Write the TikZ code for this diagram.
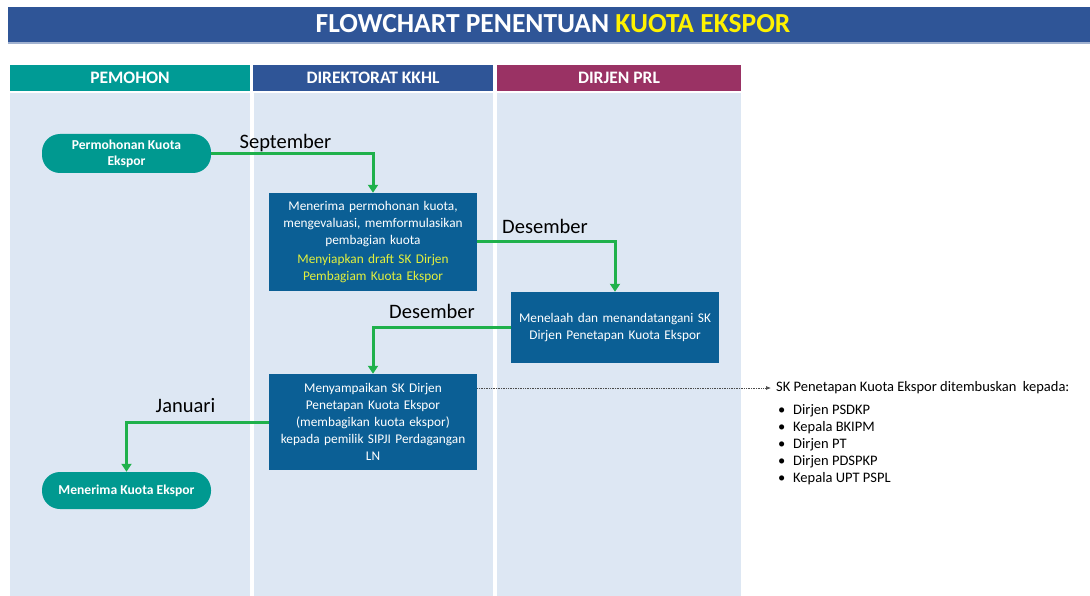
\documentclass[tikz,border=0pt]{standalone}
\usepackage{fontspec}
\setmainfont{Carlito}
\usetikzlibrary{arrows.meta}
\definecolor{barblue}{HTML}{2F5597}
\definecolor{laneteal}{HTML}{009B95}
\definecolor{lanemaroon}{HTML}{9A3264}
\definecolor{lanebody}{HTML}{DDE7F3}
\definecolor{boxblue}{HTML}{0B5F95}
\definecolor{termteal}{HTML}{009990}
\definecolor{flowgreen}{HTML}{1FB14B}
\definecolor{noteyellow}{HTML}{E4F03C}
\begin{document}
\begin{tikzpicture}[x=1pt,y=-1pt,
  lanehead/.style={text=white,font=\bfseries\fontsize{17.5}{19}\selectfont,inner sep=0pt},
  procbox/.style={fill=boxblue,text=white,align=center,inner sep=2pt,
    text width=204pt,font=\fontsize{13.3}{17}\selectfont},
  terminal/.style={fill=termteal,text=white,rounded corners=18pt,align=center,
    minimum width=169pt,inner sep=0pt,font=\bfseries\fontsize{13.6}{16}\selectfont},
  flow/.style={draw=flowgreen,line width=3pt,-{Triangle[length=8pt,width=10pt]}},
  month/.style={font=\fontsize{20.5}{22}\selectfont,text=black},
  listitem/.style={anchor=west,font=\fontsize{14.5}{16}\selectfont,inner sep=0pt}
]
\useasboundingbox (0,0) rectangle (1090,596);
\fill[white] (0,0) rectangle (1090,596);

% title bar
\fill[barblue] (8,7) rectangle (1090,42);
\fill[barblue!45] (8,42) rectangle (1090,44);
\node[text=white,font=\bfseries\fontsize{27.5}{29}\selectfont] (title) at (553,24)
  {FLOWCHART PENENTUAN \textcolor{yellow}{KUOTA EKSPOR}};

% swimlanes
\fill[laneteal] (10,65) rectangle (250,91);
\fill[barblue] (253,65) rectangle (493,91);
\fill[lanemaroon] (497,65) rectangle (741,91);
\fill[lanebody] (10,93) rectangle (250,596);
\fill[lanebody] (254,93) rectangle (493,596);
\fill[lanebody] (497,93) rectangle (741,596);
\node[lanehead] (h1) at (130,78) {PEMOHON};
\node[lanehead] (h2) at (373,78) {DIREKTORAT KKHL};
\node[lanehead] (h3) at (619,78) {DIRJEN PRL};

% steps
\node[terminal,minimum height=39pt] (start) at (126.5,153.5) {Permohonan Kuota\\Ekspor};
\node[procbox,minimum height=98pt] (box1) at (373,242)
  {Menerima permohonan kuota,\\mengevaluasi, memformulasikan\\pembagian kuota\\[2.5pt]
   \textcolor{noteyellow}{Menyiapkan draft SK Dirjen}\\\textcolor{noteyellow}{Pembagiam Kuota Ekspor}};
\node[procbox,minimum height=71pt] (box2) at (615,327.5)
  {Menelaah dan menandatangani SK\\Dirjen Penetapan Kuota Ekspor};
\node[procbox,minimum height=96pt] (box3) at (373,422)
  {Menyampaikan SK Dirjen\\Penetapan Kuota Ekspor\\(membagikan kuota ekspor)\\kepada pemilik SIPJI Perdagangan\\LN};
\node[terminal,minimum height=37pt] (finish) at (126.5,490.5) {Menerima Kuota Ekspor};

% flow arrows
\draw[flow] (start.east) -| (box1.north);
\draw[flow] (box1.east) -| (box2.north);
\draw[flow] (box2.west) -| (box3.north);
\draw[flow] (box3.west) -| (finish.north);

% month labels
\node[month] (m1) at (285.5,143) {September};
\node[month] (m2) at (545,226) {Desember};
\node[month] (m3) at (432,311) {Desember};
\node[month] (m4) at (185.5,406) {Januari};

% distribution note
\node[listitem] (note) at (776,388) {SK Penetapan Kuota Ekspor ditembuskan\ \ kepada:};
\draw[densely dotted,draw=black!70,line width=0.7pt,-{Latex[length=5pt,width=4pt]}]
  (box3.east |- note.west) -- ([xshift=-5pt]note.west);
\node[listitem] (l1) at (778,411) {\makebox[15pt][l]{•}Dirjen PSDKP};
\node[listitem] (l2) at (778,428) {\makebox[15pt][l]{•}Kepala BKIPM};
\node[listitem] (l3) at (778,445) {\makebox[15pt][l]{•}Dirjen PT};
\node[listitem] (l4) at (778,462) {\makebox[15pt][l]{•}Dirjen PDSPKP};
\node[listitem] (l5) at (778,479) {\makebox[15pt][l]{•}Kepala UPT PSPL};
\end{tikzpicture}
\end{document}
